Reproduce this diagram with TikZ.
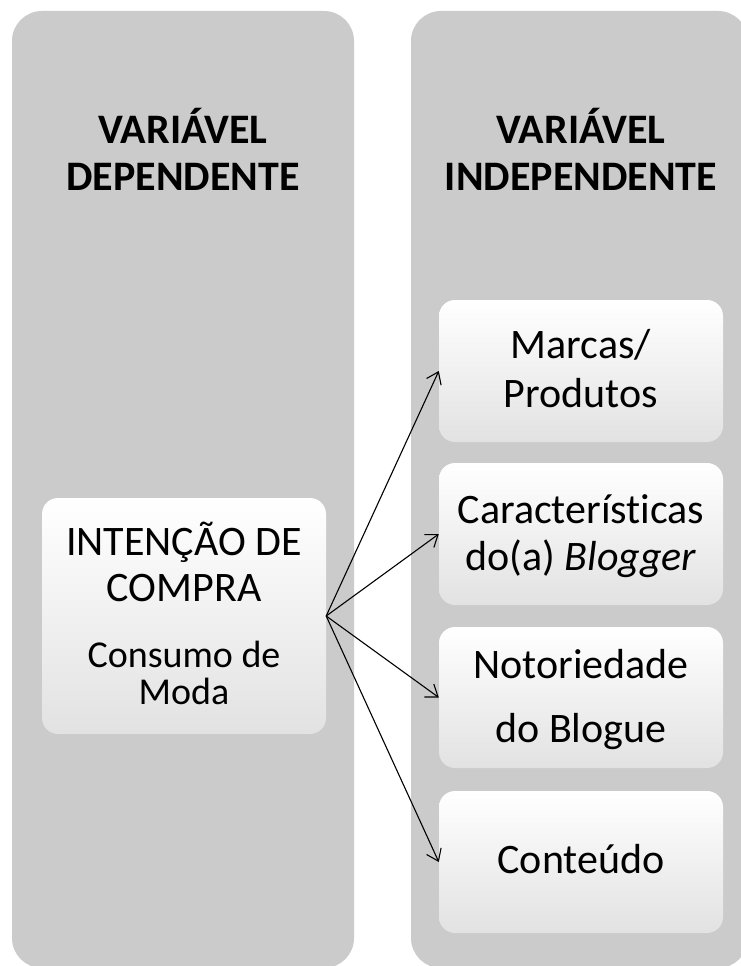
\documentclass[tikz,border=0pt]{standalone}
\usepackage{fontspec}
\setmainfont{Carlito}[Ligatures={NoCommon}]
\usetikzlibrary{arrows.meta}
\definecolor{panelgray}{RGB}{203,203,203}
\definecolor{boxbottom}{RGB}{226,226,226}
\tikzset{
  panel/.style={fill=panelgray, draw=none, rounded corners=30pt},
  whitebox/.style={draw=none, rounded corners=16pt, top color=white, middle color=white, bottom color=boxbottom, inner sep=0pt},
  titletext/.style={anchor=base, inner sep=0pt, font=\fontsize{42}{47}\selectfont\bfseries},
  bigtext/.style={anchor=base, inner sep=0pt, font=\fontsize{42}{47}\selectfont},
  smalltext/.style={anchor=base, inner sep=0pt, font=\fontsize{38}{42}\selectfont},
  link/.style={line width=1.1pt, -{Straight Barb[length=11pt,width=16pt]}}
}
\begin{document}
\begin{tikzpicture}[x=1pt,y=-1pt]
\useasboundingbox[fill=white] (0,0) rectangle (740,966);
% panels
\path[panel] (12,11) rectangle (354,968);
\path[panel] (411,11) rectangle (748,968);
% titles
\node[titletext] (tl1) at (183,143) {VARIÁVEL};
\node[titletext] (tl2) at (183,190) {DEPENDENTE};
\node[titletext] (tr1) at (581,143) {VARIÁVEL};
\node[titletext] (tr2) at (581,190) {INDEPENDENTE};
% boxes
\path[whitebox] (42,498) rectangle (326,734);
\node[inner sep=0pt, minimum width=284pt, minimum height=236pt] (dep) at (184,616) {};
\path[whitebox] (439,300) rectangle (723,442);
\node[inner sep=0pt, minimum width=284pt, minimum height=142pt] (b1) at (581,371) {};
\path[whitebox] (439,463) rectangle (723,605);
\node[inner sep=0pt, minimum width=284pt, minimum height=142pt] (b2) at (581,534) {};
\path[whitebox] (439,627) rectangle (723,768);
\node[inner sep=0pt, minimum width=284pt, minimum height=141pt] (b3) at (581,697.5) {};
\path[whitebox] (439,791) rectangle (723,933);
\node[inner sep=0pt, minimum width=284pt, minimum height=142pt] (b4) at (581,862) {};
% texts
\node[bigtext] (d1) at (184,555) {INTENÇÃO DE};
\node[bigtext] (d2) at (184,601) {COMPRA};
\node[smalltext] (d3) at (184,667) {Consumo de};
\node[smalltext] (d4) at (184,704) {Moda};
\node[bigtext] (m1) at (581,358) {Marcas/};
\node[bigtext] (m2) at (581,407) {Produtos};
\node[bigtext] (c1) at (581,523) {Características};
\node[bigtext] (c2) at (581,570) {do(a) \textit{Blogger}};
\node[bigtext] (n1) at (581,678) {Notoriedade};
\node[bigtext] (n2) at (581,742) {do Blogue};
\node[bigtext] (k1) at (581,873) {Conteúdo};
% connectors
\draw[link] (dep.east) -- (b1.west);
\draw[link] (dep.east) -- (b2.west);
\draw[link] (dep.east) -- (b3.west);
\draw[link] (dep.east) -- (b4.west);
\end{tikzpicture}
\end{document}
